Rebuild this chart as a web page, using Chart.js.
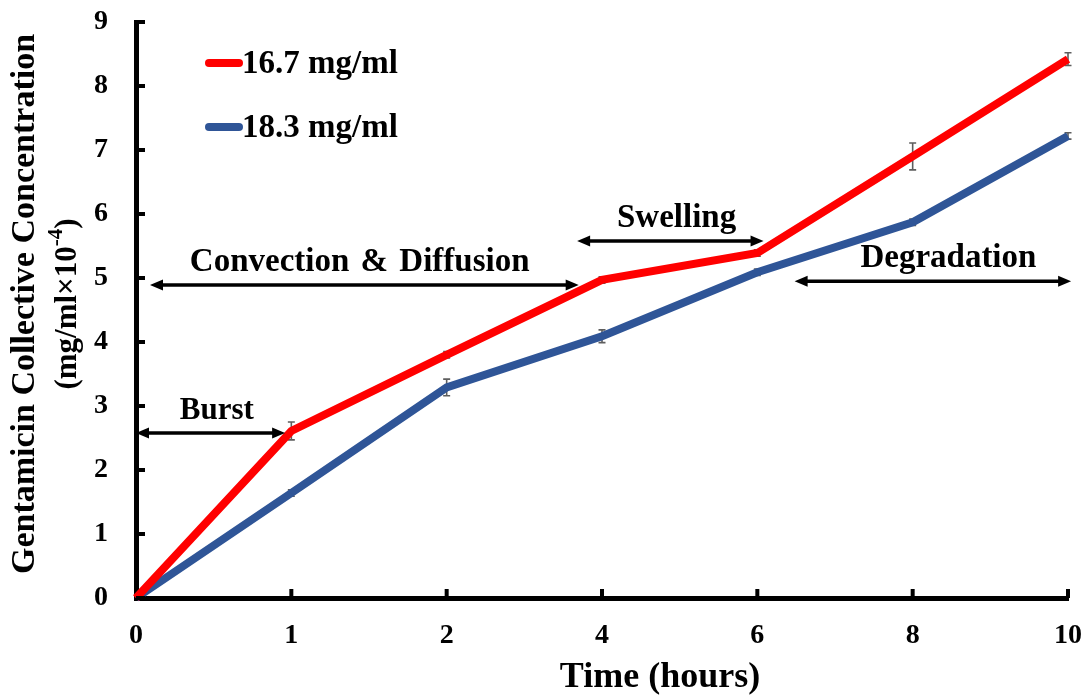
<!DOCTYPE html>
<html>
<head>
<meta charset="utf-8">
<script src="https://cdn.jsdelivr.net/npm/chart.js@4/dist/chart.umd.min.js"></script>
<style>
  html, body { margin: 0; padding: 0; background: #fff; }
  #wrap { width: 1087px; height: 696px; }
</style>
</head>
<body>
<div id="wrap"><canvas id="chart"></canvas></div>
<script>
// Sampling times (hours) and cumulative gentamicin concentration (mg/ml x 10^-4)
const timeLabels = ['0', '1', '2', '4', '6', '8', '10'];
const conc167 = [0, 2.61, 3.80, 4.97, 5.39, 6.90, 8.42];
const sd167   = [0, 0.14, 0.05, 0.05, 0.05, 0.21, 0.10];
const conc183 = [0, 1.64, 3.29, 4.09, 5.09, 5.87, 7.22];
const sd183   = [0, 0.05, 0.13, 0.10, 0.05, 0.05, 0.05];
const yTickValues = [0, 1, 2, 3, 4, 5, 6, 7, 8, 9];

// Release phases: label and span along the time axis (category index units)
const phaseNames  = ['Burst', 'Convection & Diffusion', 'Swelling', 'Degradation'];
const phaseStart  = [0, 0.09, 2.84, 4.24];
const phaseEnd    = [0.96, 2.85, 4.04, 6.02];
const phaseLevel  = [2.58, 4.89, 5.58, 4.95];
const phaseLabelX = [0.52, 1.44, 3.48, 5.23];

const SERIF = '"Liberation Serif", "Times New Roman", serif';
const font = (size) => 'bold ' + size + 'px ' + SERIF;

function arrowHead(ctx, x, y, dir) {
  ctx.beginPath();
  ctx.moveTo(x, y);
  ctx.lineTo(x - dir * 13, y - 5.5);
  ctx.lineTo(x - dir * 13, y + 5.5);
  ctx.closePath();
  ctx.fill();
}

const decorations = {
  id: 'decorations',
  beforeDatasetsDraw(chart) {
    const { ctx, scales: { x, y } } = chart;
    ctx.save();
    ctx.strokeStyle = '#5e5e5e';
    ctx.lineWidth = 1.6;
    chart.data.datasets.forEach((ds) => {
      ds.data.forEach((v, i) => {
        const e = ds.errors[i];
        if (!e) return;
        const px = x.getPixelForValue(i);
        const top = y.getPixelForValue(v + e);
        const bot = y.getPixelForValue(v - e);
        ctx.beginPath();
        ctx.moveTo(px, top); ctx.lineTo(px, bot);
        ctx.moveTo(px - 3.5, top); ctx.lineTo(px + 3.5, top);
        ctx.moveTo(px - 3.5, bot); ctx.lineTo(px + 3.5, bot);
        ctx.stroke();
      });
    });
    ctx.restore();
  },
  afterDraw(chart) {
    const { ctx, chartArea: area, scales: { x, y } } = chart;
    ctx.save();

    // inward tick marks
    ctx.strokeStyle = '#000';
    ctx.lineWidth = 4;
    y.ticks.forEach((t) => {
      const py = y.getPixelForValue(t.value);
      ctx.beginPath();
      ctx.moveTo(area.left, py);
      ctx.lineTo(area.left + 9, py);
      ctx.stroke();
    });
    x.ticks.forEach((t, i) => {
      if (i === 0) return;
      const px = x.getPixelForValue(i);
      ctx.beginPath();
      ctx.moveTo(px, area.bottom);
      ctx.lineTo(px, area.bottom - 9);
      ctx.stroke();
    });

    // phase arrows and labels
    ctx.fillStyle = '#000';
    ctx.lineWidth = 3.5;
    phaseNames.forEach((name, k) => {
      const x0 = x.getPixelForValue(phaseStart[k]);
      const x1 = x.getPixelForValue(phaseEnd[k]);
      const py = y.getPixelForValue(phaseLevel[k]);
      ctx.beginPath();
      ctx.moveTo(x0 + 8, py);
      ctx.lineTo(x1 - 8, py);
      ctx.stroke();
      arrowHead(ctx, x0, py, -1);
      arrowHead(ctx, x1, py, 1);
      ctx.font = font(k === 0 ? 31 : 33);
      ctx.wordSpacing = '3px';
      ctx.textAlign = 'center';
      ctx.textBaseline = 'alphabetic';
      ctx.fillText(name, x.getPixelForValue(phaseLabelX[k]), py - 14);
      ctx.wordSpacing = '0px';
    });

    // legend
    ctx.lineCap = 'round';
    ctx.lineWidth = 8;
    chart.data.datasets.forEach((ds, k) => {
      const ly = area.top + 41 + k * 64;
      ctx.strokeStyle = ds.borderColor;
      ctx.beginPath();
      ctx.moveTo(area.left + 73, ly);
      ctx.lineTo(area.left + 103, ly);
      ctx.stroke();
      ctx.fillStyle = '#000';
      ctx.font = font(33);
      ctx.textAlign = 'left';
      ctx.textBaseline = 'middle';
      ctx.fillText(ds.label, area.left + 106, ly + 1);
    });
    ctx.lineCap = 'butt';

    // x axis title
    ctx.fillStyle = '#000';
    ctx.font = font(36);
    ctx.textAlign = 'center';
    ctx.textBaseline = 'middle';
    ctx.fillText('Time (hours)', 660, 678);

    // y axis title (two lines, rotated)
    const cy = (area.top + area.bottom) / 2 - 6;
    ctx.save();
    ctx.translate(25, cy);
    ctx.rotate(-Math.PI / 2);
    ctx.font = font(34);
    ctx.fillText('Gentamicin Collective Concentration', 0, 0);
    ctx.restore();

    ctx.save();
    ctx.translate(68, cy);
    ctx.rotate(-Math.PI / 2);
    const mainF = font(31), supF = font(21);
    const parts = [['(mg/ml×10', mainF, 0], ['-4', supF, -11], [')', mainF, 0]];
    let total = 0;
    parts.forEach((p) => { ctx.font = p[1]; total += ctx.measureText(p[0]).width; });
    let cx = -total / 2;
    ctx.textAlign = 'left';
    parts.forEach((p) => {
      ctx.font = p[1];
      ctx.fillText(p[0], cx, p[2]);
      cx += ctx.measureText(p[0]).width;
    });
    ctx.restore();

    ctx.restore();
  }
};

new Chart(document.getElementById('chart'), {
  type: 'line',
  data: {
    labels: timeLabels,
    datasets: [
      {
        label: '16.7 mg/ml',
        data: conc167,
        errors: sd167,
        borderColor: '#ff0000',
        backgroundColor: '#ff0000',
        borderWidth: 8,
        pointRadius: 0,
        tension: 0,
        clip: false
      },
      {
        label: '18.3 mg/ml',
        data: conc183,
        errors: sd183,
        borderColor: '#2f5597',
        backgroundColor: '#2f5597',
        borderWidth: 8,
        pointRadius: 0,
        tension: 0,
        clip: false
      }
    ]
  },
  options: {
    responsive: true,
    maintainAspectRatio: false,
    animation: false,
    layout: { padding: { left: 0, right: 19, top: 22, bottom: 0 } },
    plugins: {
      legend: { display: false },
      tooltip: { enabled: false }
    },
    scales: {
      x: {
        type: 'category',
        offset: false,
        grid: { display: false, drawTicks: false },
        border: { display: true, color: '#000', width: 5 },
        ticks: {
          color: '#000',
          font: { family: SERIF, size: 28, weight: 'bold' },
          padding: 21,
          maxRotation: 0
        },
        afterFit(scale) {
          scale.height = 98;
          scale.paddingLeft = 0;
          scale.paddingRight = 0;
        }
      },
      y: {
        min: 0,
        max: 9,
        grid: { display: false, drawTicks: false },
        border: { display: true, color: '#000', width: 5 },
        afterBuildTicks(scale) {
          scale.ticks = yTickValues.map((v) => ({ value: v }));
        },
        ticks: {
          color: '#000',
          font: { family: SERIF, size: 28, weight: 'bold' },
          padding: 28
        },
        afterFit(scale) {
          scale.width = 136;
          scale.paddingTop = 0;
          scale.paddingBottom = 0;
        }
      }
    }
  },
  plugins: [decorations]
});
</script>
</body>
</html>
